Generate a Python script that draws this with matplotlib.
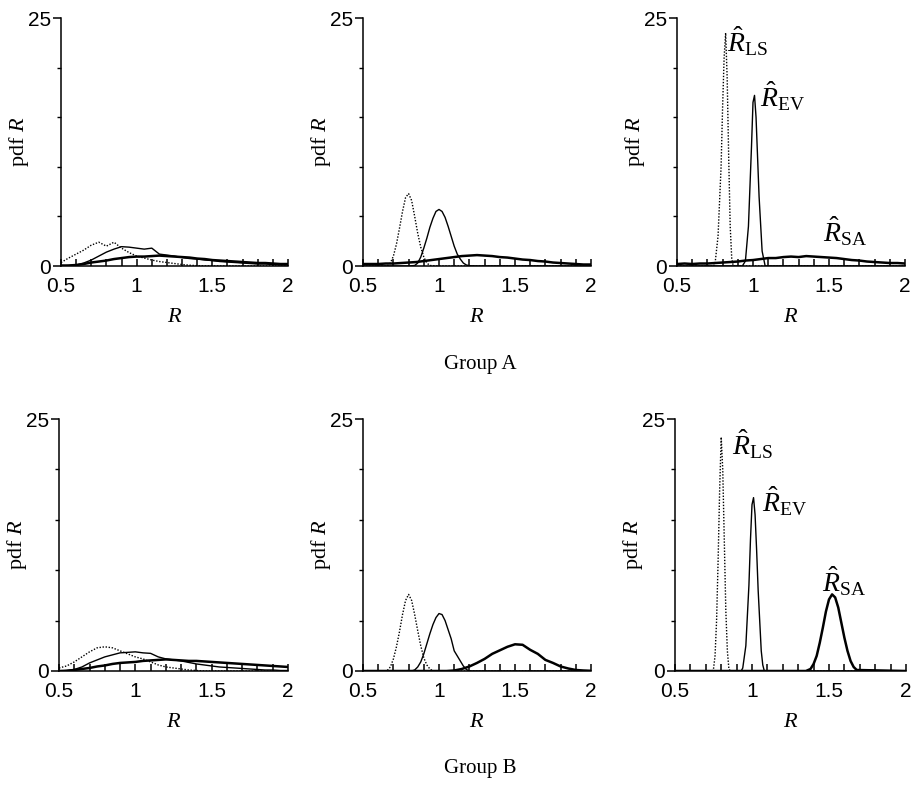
import matplotlib
matplotlib.use("Agg")
import matplotlib.pyplot as plt
import numpy as np

plt.rcParams['mathtext.fontset'] = 'custom'
plt.rcParams['mathtext.rm'] = 'Liberation Serif'
plt.rcParams['mathtext.it'] = 'Liberation Serif:italic'
plt.rcParams['mathtext.bf'] = 'Liberation Serif:bold'

# common grid for the broad histograms (R from 0.5 to 2.0)
grid = np.round(np.arange(0.5, 2.001, 0.05), 2)

# ---- Group A ----
a1_ls = [0.35, 0.8, 1.2, 1.6, 2.1, 2.4, 2.0, 2.4, 1.8, 1.35, 1.0, 0.8, 0.6, 0.45, 0.35, 0.25,
         0.15, 0.08, 0.03, 0, 0, 0, 0, 0, 0, 0, 0, 0, 0, 0, 0]
a1_ev = [0, 0.05, 0.1, 0.3, 0.6, 1.0, 1.4, 1.7, 1.95, 1.9, 1.8, 1.7, 1.8, 1.2, 1.1, 1.0, 0.85,
         0.75, 0.7, 0.6, 0.55, 0.45, 0.4, 0.35, 0.3, 0.25, 0.2, 0.2, 0.15, 0.1, 0.1]
a1_sa = [0.05, 0.05, 0.1, 0.2, 0.35, 0.45, 0.55, 0.7, 0.8, 0.9, 0.95, 0.95, 1.0, 1.05, 1.0, 0.95,
         0.9, 0.85, 0.75, 0.7, 0.6, 0.55, 0.5, 0.45, 0.4, 0.35, 0.3, 0.3, 0.25, 0.2, 0.2]

a2_ls_x = [0.5, 0.6, 0.66, 0.68, 0.7, 0.72, 0.74, 0.76, 0.78, 0.8, 0.82, 0.84, 0.86, 0.88, 0.9,
           0.92, 0.94, 1.0, 2.0]
a2_ls = [0, 0, 0, 0.3, 1.0, 2.2, 3.8, 5.5, 6.9, 7.3, 6.6, 5.0, 3.3, 1.9, 0.9, 0.3, 0.05, 0, 0]
a2_ev_x = [0.5, 0.8, 0.84, 0.86, 0.88, 0.9, 0.92, 0.94, 0.96, 0.98, 1.0, 1.02, 1.04, 1.06, 1.08,
           1.1, 1.12, 1.14, 1.16, 1.18, 1.2, 1.25, 2.0]
a2_ev = [0, 0, 0.05, 0.3, 0.9, 1.8, 2.8, 3.9, 4.8, 5.5, 5.7, 5.5, 4.9, 4.0, 3.0, 2.0, 1.2, 0.7,
         0.3, 0.1, 0.03, 0, 0]
a2_sa = [0.2, 0.2, 0.2, 0.25, 0.25, 0.3, 0.35, 0.4, 0.5, 0.6, 0.7, 0.8, 0.9, 1.0, 1.05, 1.1,
         1.05, 1.0, 0.9, 0.85, 0.75, 0.65, 0.6, 0.5, 0.45, 0.35, 0.3, 0.25, 0.2, 0.15, 0.15]

a3_ls_x = [0.5, 0.74, 0.75, 0.77, 0.79, 0.80, 0.81, 0.82, 0.83, 0.84, 0.85, 0.86, 0.87, 2.0]
a3_ls = [0, 0, 0.2, 3, 10, 16, 21, 23.5, 19, 11, 4, 0.8, 0, 0]
a3_ev_x = [0.5, 0.93, 0.95, 0.97, 0.99, 1.0, 1.01, 1.02, 1.04, 1.06, 1.08, 2.0]
a3_ev = [0, 0, 0.5, 4, 12, 16.5, 17.2, 15, 7, 1.5, 0, 0]
a3_sa = [0.2, 0.25, 0.2, 0.25, 0.25, 0.3, 0.35, 0.4, 0.45, 0.55, 0.6, 0.7, 0.8, 0.8, 0.9, 0.95,
         0.9, 1.0, 0.95, 0.9, 0.85, 0.8, 0.7, 0.6, 0.55, 0.45, 0.4, 0.35, 0.3, 0.3, 0.25]

# ---- Group B ----
b1_ls = [0.3, 0.5, 0.9, 1.4, 1.9, 2.3, 2.4, 2.3, 2.0, 1.7, 1.4, 1.2, 0.9, 0.6, 0.4, 0.3, 0.2,
         0.1, 0.05, 0, 0, 0, 0, 0, 0, 0, 0, 0, 0, 0, 0]
b1_ev = [0, 0.05, 0.15, 0.4, 0.8, 1.1, 1.4, 1.6, 1.8, 1.85, 1.9, 1.8, 1.75, 1.4, 1.2, 1.1, 1.0,
         0.85, 0.7, 0.6, 0.5, 0.4, 0.35, 0.3, 0.25, 0.2, 0.15, 0.1, 0.1, 0.05, 0.05]
b1_sa = [0, 0.02, 0.1, 0.2, 0.3, 0.45, 0.55, 0.7, 0.8, 0.85, 0.9, 1.0, 1.05, 1.1, 1.15, 1.1,
         1.05, 1.0, 1.0, 0.95, 0.9, 0.85, 0.8, 0.75, 0.7, 0.65, 0.6, 0.55, 0.5, 0.45, 0.4]

b2_ls_x = [0.5, 0.64, 0.66, 0.68, 0.7, 0.72, 0.74, 0.76, 0.78, 0.8, 0.82, 0.84, 0.86, 0.88, 0.9,
           0.92, 0.94, 0.96, 2.0]
b2_ls = [0, 0, 0.05, 0.4, 1.2, 2.4, 3.9, 5.6, 7.0, 7.6, 7.0, 5.6, 4.0, 2.5, 1.3, 0.6, 0.2, 0, 0]
b2_ev_x = [0.5, 0.82, 0.84, 0.86, 0.88, 0.9, 0.92, 0.94, 0.96, 0.98, 1.0, 1.02, 1.04, 1.06, 1.08,
           1.1, 1.12, 1.14, 1.16, 1.18, 1.2, 2.0]
b2_ev = [0, 0, 0.1, 0.4, 0.9, 1.7, 2.7, 3.7, 4.6, 5.3, 5.7, 5.6, 5.0, 4.1, 3.2, 2.0, 1.5, 1.0,
         0.5, 0.15, 0, 0]
b2_sa = [0, 0, 0, 0, 0, 0, 0, 0, 0, 0, 0, 0, 0.05, 0.2, 0.45, 0.8, 1.2, 1.7, 2.05, 2.4, 2.65,
         2.6, 2.1, 1.7, 1.1, 0.8, 0.45, 0.25, 0.1, 0.05, 0.02]

b3_ls_x = [0.5, 0.74, 0.75, 0.76, 0.77, 0.78, 0.79, 0.80, 0.81, 0.82, 0.83, 0.84, 0.85, 0.86, 2.0]
b3_ls = [0, 0, 0.2, 1.5, 5, 11, 18, 23.2, 20, 13, 6, 2, 0.2, 0, 0]
b3_ev_x = [0.5, 0.93, 0.94, 0.96, 0.98, 0.99, 1.0, 1.01, 1.02, 1.03, 1.04, 1.06, 1.07, 1.08, 2.0]
b3_ev = [0, 0, 0.3, 2.5, 8.5, 13, 16.5, 17.2, 15.5, 12, 8, 2.0, 0.6, 0, 0]
b3_sa_x = [0.5, 1.35, 1.38, 1.4, 1.42, 1.44, 1.46, 1.48, 1.5, 1.52, 1.54, 1.56, 1.58, 1.6, 1.62,
           1.64, 1.66, 1.68, 2.0]
b3_sa = [0, 0, 0.2, 0.7, 1.5, 2.8, 4.3, 5.9, 7.1, 7.6, 7.3, 6.3, 4.8, 3.3, 2.0, 1.0, 0.4, 0.1, 0]

# estimator labels (text, x, y) for the third column
a3_labels = [(r'$\hat{R}_{\rm LS}$', 0.83, 21.6), (r'$\hat{R}_{\rm EV}$', 1.045, 16.0),
             (r'$\hat{R}_{\rm SA}$', 1.46, 2.4)]
b3_labels = [(r'$\hat{R}_{\rm LS}$', 0.87, 21.4), (r'$\hat{R}_{\rm EV}$', 1.065, 15.8),
             (r'$\hat{R}_{\rm SA}$', 1.455, 7.8)]

panels = [
    # (rect in px: left, top, width, height), ls, ev, sa, labels
    ((61, 18, 227, 248), (grid, a1_ls), (grid, a1_ev), (grid, a1_sa), None),
    ((363, 18, 228, 248), (a2_ls_x, a2_ls), (a2_ev_x, a2_ev), (grid, a2_sa), None),
    ((677, 18, 228, 248), (a3_ls_x, a3_ls), (a3_ev_x, a3_ev), (grid, a3_sa), a3_labels),
    ((59, 419, 229, 252), (grid, b1_ls), (grid, b1_ev), (grid, b1_sa), None),
    ((363, 419, 228, 252), (b2_ls_x, b2_ls), (b2_ev_x, b2_ev), (grid, b2_sa), None),
    ((675, 419, 231, 252), (b3_ls_x, b3_ls), (b3_ev_x, b3_ev), (b3_sa_x, b3_sa), b3_labels),
]

W, H = 914, 791
fig = plt.figure(figsize=(W / 100, H / 100), dpi=100)

for rect, ls, ev, sa, labels in panels:
    l, t, w, h = rect
    ax = fig.add_axes([l / W, 1 - (t + h) / H, w / W, h / H])
    ax.plot(ls[0], ls[1], color='black', lw=1.0, ls=(0, (1, 1.2)))
    ax.plot(ev[0], ev[1], color='black', lw=1.0)
    ax.plot(sa[0], sa[1], color='black', lw=1.8)
    ax.set_xlim(0.5, 2)
    ax.set_ylim(0, 25)
    for s in ['top', 'right']:
        ax.spines[s].set_visible(False)
    for s in ['left', 'bottom']:
        ax.spines[s].set_linewidth(1.1)
    ax.set_xticks([0.5, 1, 1.5, 2])
    ax.set_xticklabels(['0.5', '1', '1.5', '2'])
    ax.set_xticks(np.arange(0.6, 2.0, 0.1), minor=True)
    ax.set_yticks([0, 25])
    ax.set_yticks([5, 10, 15, 20], minor=True)
    ax.tick_params(axis='x', which='both', direction='in', length=5, width=1.1,
                   labelsize=15, pad=8)
    ax.tick_params(axis='y', which='major', direction='out', length=6, width=1.1,
                   labelsize=15, pad=1)
    ax.tick_params(axis='y', which='minor', direction='out', length=3, width=1.0)
    for lab in ax.get_xticklabels() + ax.get_yticklabels():
        lab.set_family('Liberation Sans')
    ax.set_xlabel(r'$R$', fontsize=16, labelpad=7)
    ax.set_ylabel(r'pdf $R$', fontsize=16, family='Liberation Serif')
    ax.yaxis.set_label_coords(-30 / w, 0.5)
    if labels:
        for txt, x, y in labels:
            ax.text(x, y, txt, fontsize=20, ha='left', va='baseline')

fig.text(480 / W, 1 - 364 / H, 'Group A', fontsize=15, family='Liberation Serif',
         ha='center', va='center')
fig.text(480 / W, 1 - 769 / H, 'Group B', fontsize=15, family='Liberation Serif',
         ha='center', va='center')

fig.savefig('out.png', dpi=100)
